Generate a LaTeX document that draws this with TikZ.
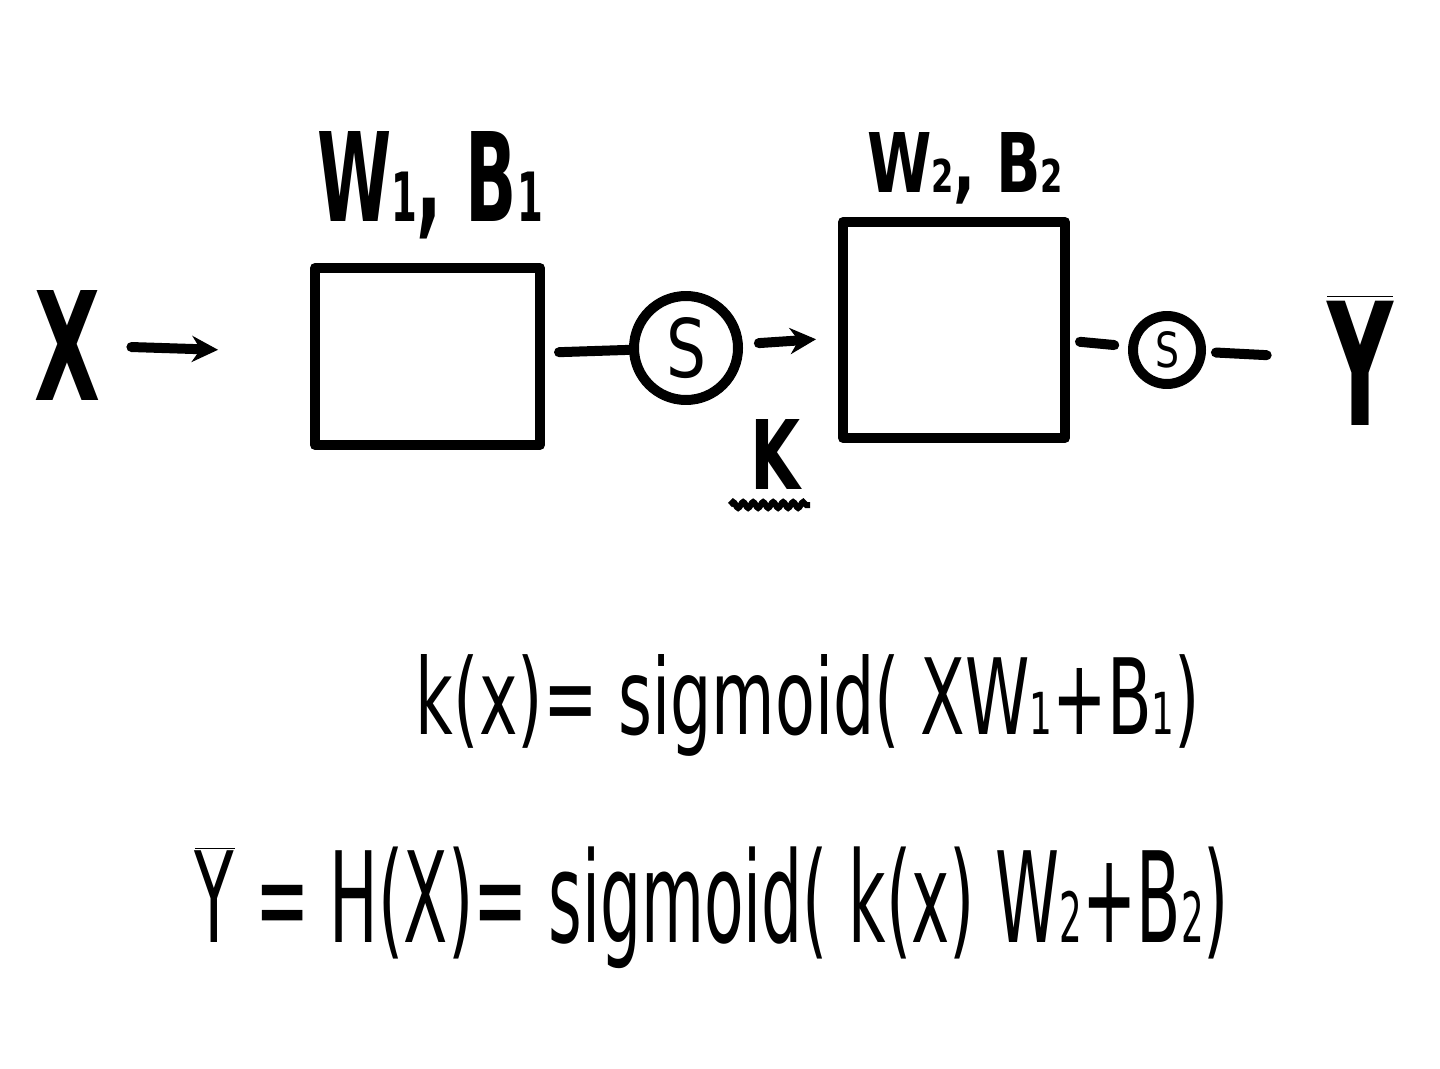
\documentclass[tikz,border=0pt]{standalone}
\usepackage{fontspec}
\setmainfont{DejaVu Sans}
\usetikzlibrary{arrows.meta,decorations.pathmorphing}
\newcommand{\sbs}[1]{\scalebox{0.55}{#1}}
\tikzset{
  pen/.style={line width=5pt, line cap=round, line join=round, black},
  blockbox/.style={pen, draw, rectangle, inner sep=0pt},
  sig/.style={pen, draw, circle, inner sep=0pt},
  lbl/.style={inner sep=0pt, font=\fontsize{60}{70}\selectfont\bfseries},
  eqn/.style={inner sep=0pt, font=\fontsize{60}{70}\selectfont},
  arr/.style={pen, -{Stealth[length=13pt,width=13pt]}},
}
\begin{document}
\begin{tikzpicture}[x=0.5pt,y=-0.5pt]
  \fill[white] (0,0) rectangle (1440,1069);
  \useasboundingbox (0,0) rectangle (1440,1069);
  % inputs / outputs
  \node[lbl] (x) at (68,345) {\resizebox{33pt}{55pt}{X}};
  \node[blockbox, minimum width=112.5pt, minimum height=88.5pt] (b1) at (427.5,356.5) {};
  \node[blockbox, minimum width=111pt, minimum height=108pt] (b2) at (954,330) {};
  \node[sig, minimum size=52pt] (s1) at (686,348) {\resizebox{20pt}{30pt}{S}};
  \node[sig, minimum size=34pt] (s2) at (1167,350) {\resizebox{12pt}{18pt}{S}};
  \node[lbl] (y) at (1360,360) {\resizebox{33pt}{65pt}{$\overline{\mbox{Y}}$}};
  % labels
  \node[lbl] (l1) at (430,185) {\resizebox{113pt}{45pt}{W\sbs{1}, B\sbs{1}}};
  \node[lbl] (l2) at (965,168) {\resizebox{98pt}{30pt}{W\sbs{2}, B\sbs{2}}};
  \node[lbl] (k) at (775,455) {\resizebox{25pt}{35pt}{K}};
  \coordinate (wa) at (730,505);
  \coordinate (wb) at (810,505);
  \draw[line width=3pt, decorate, decoration={snake, amplitude=1.5pt, segment length=5pt}] (wa) -- (wb);
  % connectors
  \draw[arr, shorten <=15pt, shorten >=46pt] (x) -- (b1);
  \draw[pen, shorten <=7pt] (b1) -- (s1);
  \draw[arr, shorten <=8pt, shorten >=11pt] (s1) -- (b2);
  \draw[pen, shorten <=5pt, shorten >=7pt] (b2) -- (s2);
  \draw[pen, shorten <=5pt, shorten >=30pt] (s2) -- (y);
  % equations
  \node[eqn] (e1) at (808,705) {\resizebox{392pt}{40pt}{k(x)= sigmoid( XW\sbs{1}+B\sbs{1})}};
  \node[eqn] (e2) at (712,908) {\resizebox{517pt}{48pt}{$\overline{\mbox{Y}}$ = H(X)= sigmoid( k(x) W\sbs{2}+B\sbs{2})}};
\end{tikzpicture}
\end{document}
